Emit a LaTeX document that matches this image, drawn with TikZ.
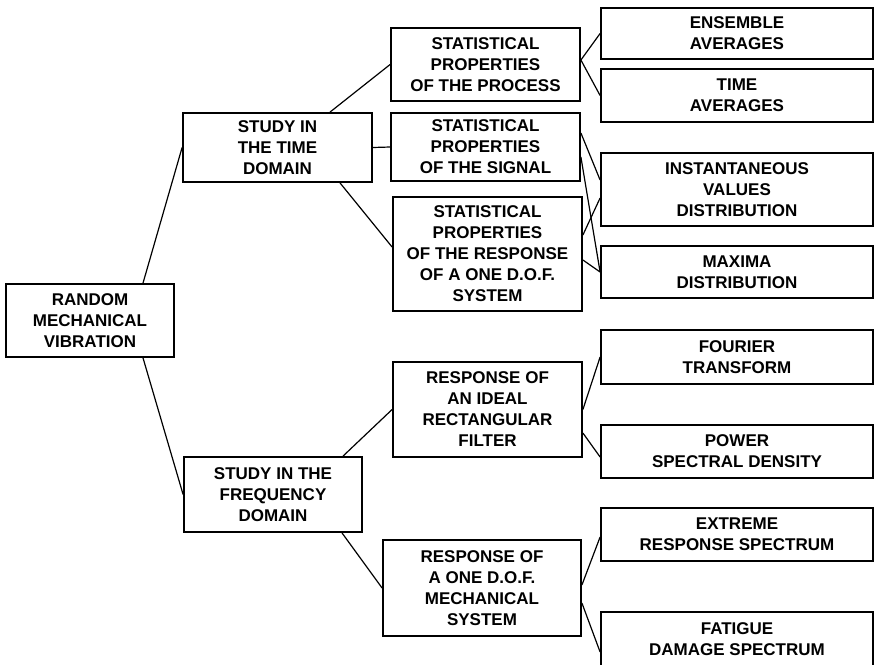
\documentclass[tikz,border=0pt]{standalone}
\usepackage{fontspec}
\setmainfont{Liberation Sans}
\usepackage{xcolor}
\usepackage{tikz}

\begin{document}
\begin{tikzpicture}[x=1pt,y=-1pt,
    box/.style={draw,line width=1.8pt,align=center,inner sep=0pt,
      font=\fontsize{17}{21}\selectfont\bfseries},
    link/.style={line width=1.2pt}]
            \useasboundingbox (0,0) rectangle (875,664);

            % first and second level
            \node[box,minimum width=168pt,minimum height=73pt] (root) at (90,320.5) {RANDOM\\MECHANICAL\\VIBRATION};
            \node[box,minimum width=189pt,minimum height=69pt] (time) at (277.5,147.5) {STUDY IN\\THE TIME\\DOMAIN};
            \node[box,minimum width=178pt,minimum height=75pt] (freq) at (273,494.5) {STUDY IN THE\\FREQUENCY\\DOMAIN};

            % third level
            \node[box,minimum width=189pt,minimum height=73pt] (proc) at (485.5,64.5) {STATISTICAL\\PROPERTIES\\OF THE PROCESS};
            \node[box,minimum width=189pt,minimum height=68pt] (sig) at (485.5,147) {STATISTICAL\\PROPERTIES\\OF THE SIGNAL};
            \node[box,minimum width=189pt,minimum height=114pt] (resp) at (487.5,254) {STATISTICAL\\PROPERTIES\\OF THE RESPONSE\\OF A ONE D.O.F.\\SYSTEM};
            \node[box,minimum width=189pt,minimum height=95pt] (filt) at (487.5,409.5) {RESPONSE OF\\AN IDEAL\\RECTANGULAR\\FILTER};
            \node[box,minimum width=198pt,minimum height=96pt] (mech) at (482,588) {RESPONSE OF\\A ONE D.O.F.\\MECHANICAL\\SYSTEM};

            % last level
            \node[box,minimum width=272pt,minimum height=51pt] (ens) at (737,33.5) {ENSEMBLE\\AVERAGES};
            \node[box,minimum width=272pt,minimum height=53pt] (tavg) at (737,95.5) {TIME\\AVERAGES};
            \node[box,minimum width=272pt,minimum height=73pt] (inst) at (737,189.5) {INSTANTANEOUS\\VALUES\\DISTRIBUTION};
            \node[box,minimum width=272pt,minimum height=52pt] (maxd) at (737,272) {MAXIMA\\DISTRIBUTION};
            \node[box,minimum width=272pt,minimum height=54pt] (four) at (737,357) {FOURIER\\TRANSFORM};
            \node[box,minimum width=272pt,minimum height=53pt] (psd) at (737,451.5) {POWER\\SPECTRAL DENSITY};
            \node[box,minimum width=272pt,minimum height=53pt] (ext) at (737,534.5) {EXTREME\\RESPONSE SPECTRUM};
            \node[box,minimum width=272pt,minimum height=54pt] (fat) at (737,639) {FATIGUE\\DAMAGE SPECTRUM};

            % connectors
            \draw[link] ([xshift=53pt]root.north) -- (time.west);
            \draw[link] ([xshift=53pt]root.south) -- (freq.west);
            \draw[link] ([xshift=52.5pt]time.north) -- (proc.west);
            \draw[link] (time.east) -- (sig.west);
            \draw[link] ([xshift=62.5pt]time.south) -- ([yshift=7pt]resp.west);
            \draw[link] ([xshift=70pt]freq.north) -- (filt.west);
            \draw[link] ([xshift=69pt]freq.south) -- (mech.west);

            \draw[link] ([yshift=4.5pt]proc.east) -- (ens.west);
            \draw[link] ([yshift=4.5pt]proc.east) -- (tavg.west);
            \draw[link] ([yshift=14pt]sig.east) -- ([yshift=9.5pt]inst.west);
            \draw[link] ([yshift=-10pt]sig.east) -- (maxd.west);
            \draw[link] ([yshift=19pt]resp.east) -- ([yshift=-8.5pt]inst.west);
            \draw[link] ([yshift=-6pt]resp.east) -- (maxd.west);
            \draw[link] (filt.east) -- (four.west);
            \draw[link] ([yshift=-23.5pt]filt.east) -- ([yshift=-5.5pt]psd.west);
            \draw[link] ([yshift=3pt]mech.east) -- ([yshift=-2.5pt]ext.west);
            \draw[link] ([yshift=-15pt]mech.east) -- ([yshift=-13pt]fat.west);
          \end{tikzpicture}
\end{document}
